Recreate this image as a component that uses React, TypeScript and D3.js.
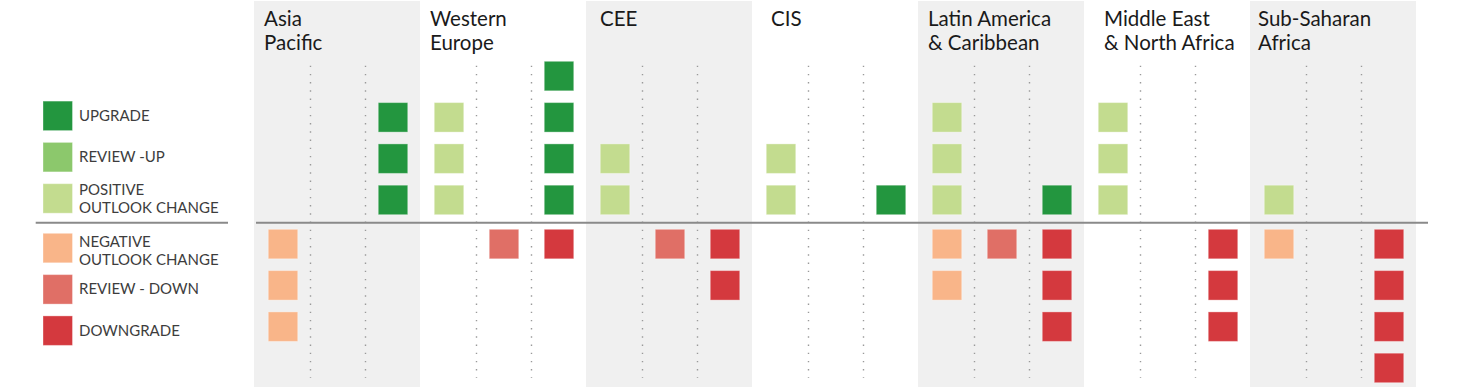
import React from 'react';
import * as d3 from 'd3';

// Regions (title lines)
const regions = ['Asia Pacific', 'Western Europe', 'CEE', 'CIS', 'Latin America & Caribbean', 'Middle East & North Africa', 'Sub-Saharan Africa'];
const regionTitles = [
  ['Asia', 'Pacific'],
  ['Western', 'Europe'],
  ['CEE'],
  ['CIS'],
  ['Latin America', '& Caribbean'],
  ['Middle East', '& North Africa'],
  ['Sub-Saharan', 'Africa'],
];

// Column kinds inside each region
const columns = ['outlook', 'review', 'rating'];

// Counts per region
const positiveOutlook = [0, 3, 2, 2, 3, 3, 1];
const reviewUp = [0, 0, 0, 0, 0, 0, 0];
const upgrades = [3, 4, 0, 1, 1, 0, 0];
const negativeOutlook = [3, 0, 0, 0, 2, 0, 1];
const reviewDown = [0, 1, 1, 0, 1, 0, 0];
const downgrades = [0, 1, 2, 0, 3, 3, 4];

const legendLabels = [
  ['UPGRADE'],
  ['REVIEW -UP'],
  ['POSITIVE', 'OUTLOOK CHANGE'],
  ['NEGATIVE', 'OUTLOOK CHANGE'],
  ['REVIEW - DOWN'],
  ['DOWNGRADE'],
];

const colors = {
  upgrade: '#23963f',
  reviewUp: '#8cc86c',
  posOutlook: '#c3dc8f',
  negOutlook: '#f9b589',
  reviewDown: '#e06f66',
  downgrade: '#d4393e',
};

// layout
const W = 1457;
const H = 390;
const baseY = 222.7;
const sq = 29.5;
const titleOffset = [10, 10, 14, 19, 10, 20, 8];

export default function App() {
  const x = d3.scaleBand<string>().domain(regions).range([254, 1416]).paddingInner(0);
  const sub = d3.scalePoint<string>().domain(columns).range([29, 139]);
  const row = d3.scaleLinear().domain([0, 1]).range([0, 41.3]);
  const posTop = (i: number) => baseY - 8 - sq - row(i);
  const negTop = (i: number) => baseY + 6.6 + row(i);

  const series = [
    { values: positiveOutlook, col: 'outlook', color: colors.posOutlook, sign: 1 },
    { values: reviewUp, col: 'review', color: colors.reviewUp, sign: 1 },
    { values: upgrades, col: 'rating', color: colors.upgrade, sign: 1 },
    { values: negativeOutlook, col: 'outlook', color: colors.negOutlook, sign: -1 },
    { values: reviewDown, col: 'review', color: colors.reviewDown, sign: -1 },
    { values: downgrades, col: 'rating', color: colors.downgrade, sign: -1 },
  ];

  const squares: { x: number; y: number; color: string; key: string }[] = [];
  series.forEach((s, si) => {
    s.values.forEach((n, ri) => {
      d3.range(n).forEach((k) => {
        squares.push({
          key: `${si}-${ri}-${k}`,
          x: (x(regions[ri]) ?? 0) + (sub(s.col) ?? 0) - sq / 2,
          y: s.sign > 0 ? posTop(k) : negTop(k),
          color: s.color,
        });
      });
    });
  });

  const bw = x.bandwidth();
  const dividers = [(sub('outlook')! + sub('review')!) / 2, (sub('review')! + sub('rating')!) / 2];

  const legendColors = [colors.upgrade, colors.reviewUp, colors.posOutlook, colors.negOutlook, colors.reviewDown, colors.downgrade];
  const legendTop = (i: number) => (i < 3 ? posTop(2 - i) - 1.5 : negTop(i - 3) + 4);

  return (
    <div style={{ position: 'absolute', left: 0, top: 0 }}>
      <svg width={W} height={H} style={{ display: 'block' }} fontFamily="Lato, 'Open Sans', sans-serif">
        {regions.map((r, i) => (
          <rect key={r} x={x(r)} y={1} width={bw} height={386} fill={i % 2 === 0 ? '#f0f0f0' : '#ffffff'} />
        ))}
        {regions.map((r, i) =>
          regionTitles[i].map((t, j) => (
            <text key={r + j} x={(x(r) ?? 0) + titleOffset[i]} y={26 + j * 24} fontSize={20.5} fill="#1a1a1a">
              {t}
            </text>
          ))
        )}
        {regions.map((r) =>
          dividers.map((d, j) => (
            <line
              key={r + 'd' + j}
              x1={(x(r) ?? 0) + d}
              x2={(x(r) ?? 0) + d}
              y1={65.7}
              y2={378}
              stroke="#9a9a9a"
              strokeWidth={1.4}
              strokeDasharray="1.4 6.8"
            />
          ))
        )}
        {squares.map((s) => (
          <rect key={s.key} x={s.x} y={s.y} width={sq} height={sq} fill={s.color} stroke="#ffffff" strokeOpacity={0.35} strokeWidth={1} />
        ))}
        <line x1={35.7} x2={228} y1={baseY} y2={baseY} stroke="#8a8a8a" strokeWidth={2} />
        <line x1={256} x2={1428} y1={baseY} y2={baseY} stroke="#8a8a8a" strokeWidth={2} />
        {legendLabels.map((lab, i) => {
          const top = legendTop(i);
          return (
            <g key={i}>
              <rect x={43} y={top} width={sq} height={sq} fill={legendColors[i]} stroke="#ffffff" strokeOpacity={0.35} strokeWidth={1} />
              {lab.map((t, j) => (
                <text
                  key={j}
                  x={79}
                  y={lab.length === 1 ? top + sq / 2 + 5 : top + (i < 3 ? 10.8 : 13.2) + j * 18}
                  fontSize={15}
                  fill="#3d3d3d"
                >
                  {t}
                </text>
              ))}
            </g>
          );
        })}
      </svg>
    </div>
  );
}
